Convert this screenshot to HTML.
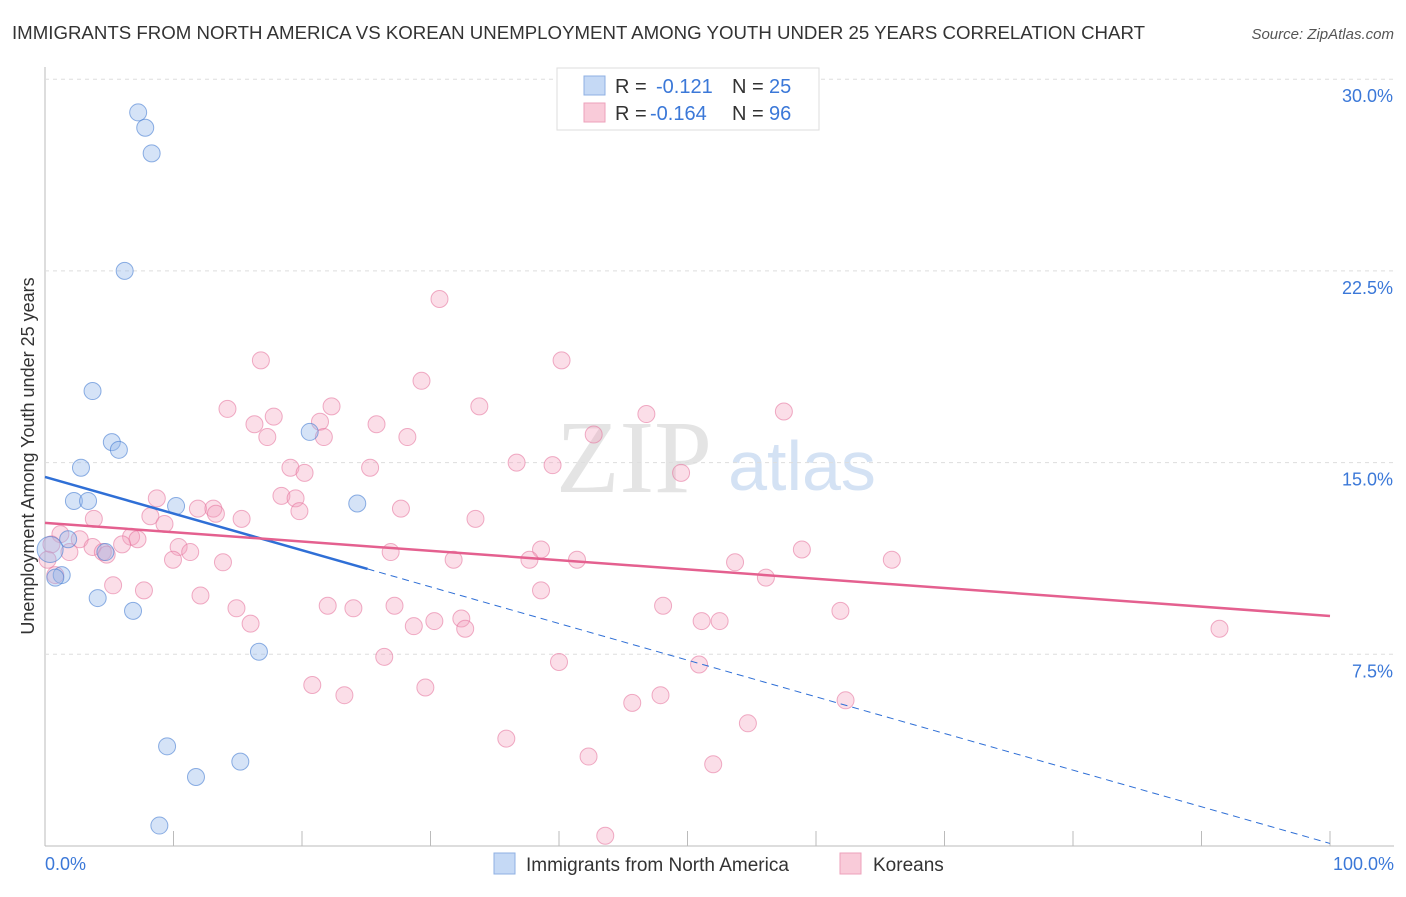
<!DOCTYPE html>
<html><head><meta charset="utf-8"><style>
body{margin:0;background:#fff;font-family:"Liberation Sans",sans-serif}
</style></head><body>
<svg id="c" width="1406" height="892" xmlns="http://www.w3.org/2000/svg">
<text x="12" y="39" font-size="18" fill="#333" textLength="1133" lengthAdjust="spacingAndGlyphs">IMMIGRANTS FROM NORTH AMERICA VS KOREAN UNEMPLOYMENT AMONG YOUTH UNDER 25 YEARS CORRELATION CHART</text>
<text x="1394" y="39" font-size="15" fill="#555" text-anchor="end" font-style="italic">Source: ZipAtlas.com</text>
<text x="634" y="492" font-size="104" fill="#e4e4e4" font-family="Liberation Serif,serif" text-anchor="middle">ZIP</text>
<text x="802" y="490" font-size="70" fill="#d4e2f4" text-anchor="middle">atlas</text>
<g id="grid"></g><g id="marks"></g><g id="lines"></g>
<text transform="translate(34,456) rotate(-90)" font-size="18" fill="#333" text-anchor="middle">Unemployment Among Youth under 25 years</text>
<text x="45" y="870" font-size="18" fill="#3b78d8">0.0%</text>
<text x="1394" y="870" font-size="18" fill="#3b78d8" text-anchor="end">100.0%</text>
<g>
<rect x="557" y="68" width="262" height="62" fill="#fff" stroke="#ddd"/>
<rect x="584" y="76" width="21" height="19" fill="#c5d9f5" stroke="#8fb0e3"/>
<rect x="584" y="103" width="21" height="19" fill="#f9cbd9" stroke="#eda2bb"/>
<text y="93" font-size="20" fill="#333"><tspan x="615">R =</tspan><tspan x="656" fill="#3b78d8">-0.121</tspan><tspan x="732">N =</tspan><tspan x="769" fill="#3b78d8">25</tspan></text>
<text y="120" font-size="20" fill="#333"><tspan x="615">R =</tspan><tspan x="650" fill="#3b78d8">-0.164</tspan><tspan x="732">N =</tspan><tspan x="769" fill="#3b78d8">96</tspan></text>
</g>
<g>
<rect x="494" y="853" width="21" height="21" fill="#c5d9f5" stroke="#8fb0e3"/>
<text x="526" y="871" font-size="19" fill="#333">Immigrants from North America</text>
<rect x="840" y="853" width="21" height="21" fill="#f9cbd9" stroke="#eda2bb"/>
<text x="873" y="871" font-size="19" fill="#333">Koreans</text>
</g>
</svg>
<script>
const yTicks=[7.5,15,22.5,30];
const blueX=[7.25,7.8,8.3,6.2,3.7,5.2,5.75,2.8,2.25,3.35,10.2,20.6,24.3,1.8,4.7,1.3,0.8,4.1,6.85,16.65,9.5,11.75,15.2,8.9,0.4];
const blueY=[28.7,28.1,27.1,22.5,17.8,15.8,15.5,14.8,13.5,13.5,13.3,16.2,13.4,12.0,11.5,10.6,10.5,9.7,9.2,7.6,3.9,2.7,3.3,0.8,11.6];
const pinkX=[58.4,30.7,16.8,40.2,29.3,33.8,14.2,57.5,46.8,17.8,16.3,22.3,25.8,21.4,17.3,28.2,42.7,21.7,36.7,39.5,19.1,25.3,49.5,20.2,8.7,18.4,19.5,27.7,13.1,11.9,19.8,13.3,33.5,8.2,3.8,15.3,9.3,1.2,2.7,6.7,7.2,6.0,10.4,11.3,3.7,4.5,4.8,1.9,26.9,38.6,58.9,65.9,9.96,31.8,41.4,37.7,53.7,13.85,56.1,5.3,7.7,38.6,12.1,14.9,22.0,24.0,27.2,48.1,61.9,91.4,32.4,30.3,32.7,28.7,16.0,51.1,52.5,26.4,40.0,50.9,20.8,29.6,23.3,47.9,45.7,62.3,54.7,35.9,42.3,52.0,43.6,0.5,0.8,0.2];
const pinkY=[28.7,21.4,19.0,19.0,18.2,17.2,17.1,17.0,16.9,16.8,16.5,17.2,16.5,16.6,16.0,16.0,16.1,16.0,15.0,14.9,14.8,14.8,14.6,14.6,13.6,13.7,13.6,13.2,13.2,13.2,13.1,13.0,12.8,12.9,12.8,12.8,12.6,12.2,12.0,12.1,12.0,11.8,11.7,11.5,11.7,11.5,11.4,11.5,11.5,11.6,11.6,11.2,11.2,11.2,11.2,11.2,11.1,11.1,10.5,10.2,10.0,10.0,9.8,9.3,9.4,9.3,9.4,9.4,9.2,8.5,8.9,8.8,8.5,8.6,8.7,8.8,8.8,7.4,7.2,7.1,6.3,6.2,5.9,5.9,5.6,5.7,4.8,4.2,3.5,3.2,0.4,11.8,10.6,11.2];
const blueTrend=[14.44,0.1];
const pinkTrend=[12.64,9.0];
const blueSolidEnd=25.1;
const X=v=>45+v*12.85, Y=v=>846-v*25.56;
const NS='http://www.w3.org/2000/svg';
function mk(t,a,p){const e=document.createElementNS(NS,t);for(const k in a)e.setAttribute(k,a[k]);p.appendChild(e);return e;}
const grid=document.getElementById('grid'),marks=document.getElementById('marks'),lines=document.getElementById('lines'),svg=document.getElementById('c');
mk('line',{x1:45,y1:67,x2:45,y2:846,stroke:'#bbb'},grid);
mk('line',{x1:45,y1:846,x2:1394,y2:846,stroke:'#bbb'},grid);
for(let i=1;i<=10;i++){mk('line',{x1:45+i*128.5,y1:831,x2:45+i*128.5,y2:846,stroke:'#bbb'},grid);}
yTicks.forEach(t=>{
 const l=mk('line',{x1:45,y1:Y(t),x2:1394,y2:Y(t),stroke:'#ddd','stroke-dasharray':'4,4'},grid);
 
 
 const tx=mk('text',{x:1393,y:Y(t)+23,'font-size':18,fill:'#3b78d8','text-anchor':'end'},svg);
 tx.textContent=t.toFixed(1)+'%';
 
 
});
pinkX.forEach((v,i)=>{
 const c=mk('circle',{cx:X(v),cy:Y(pinkY[i]),r:8.5,fill:'rgba(244,160,189,0.35)',stroke:'rgba(230,120,160,0.6)','stroke-width':1},marks);
 
 
});
blueX.forEach((v,i)=>{
 const c=mk('circle',{cx:X(v),cy:Y(blueY[i]),r:i==24?13:8.5,fill:'rgba(150,185,235,0.4)',stroke:'rgba(70,125,210,0.6)','stroke-width':1},marks);
 
 
});
const by=x=>blueTrend[0]+(blueTrend[1]-blueTrend[0])*x/100;
const b1=mk('line',{x1:X(0),y1:Y(by(0)),x2:X(blueSolidEnd),y2:Y(by(blueSolidEnd)),stroke:'#2f6fd6','stroke-width':2.5},lines);


const b2=mk('line',{x1:X(blueSolidEnd),y1:Y(by(blueSolidEnd)),x2:X(100),y2:Y(by(100)),stroke:'#2f6fd6','stroke-width':1,'stroke-dasharray':'7,5'},lines);


const p1=mk('line',{x1:X(0),y1:Y(pinkTrend[0]),x2:X(100),y2:Y(pinkTrend[1]),stroke:'#e4608f','stroke-width':2.5},lines);


</script>
</body></html>
